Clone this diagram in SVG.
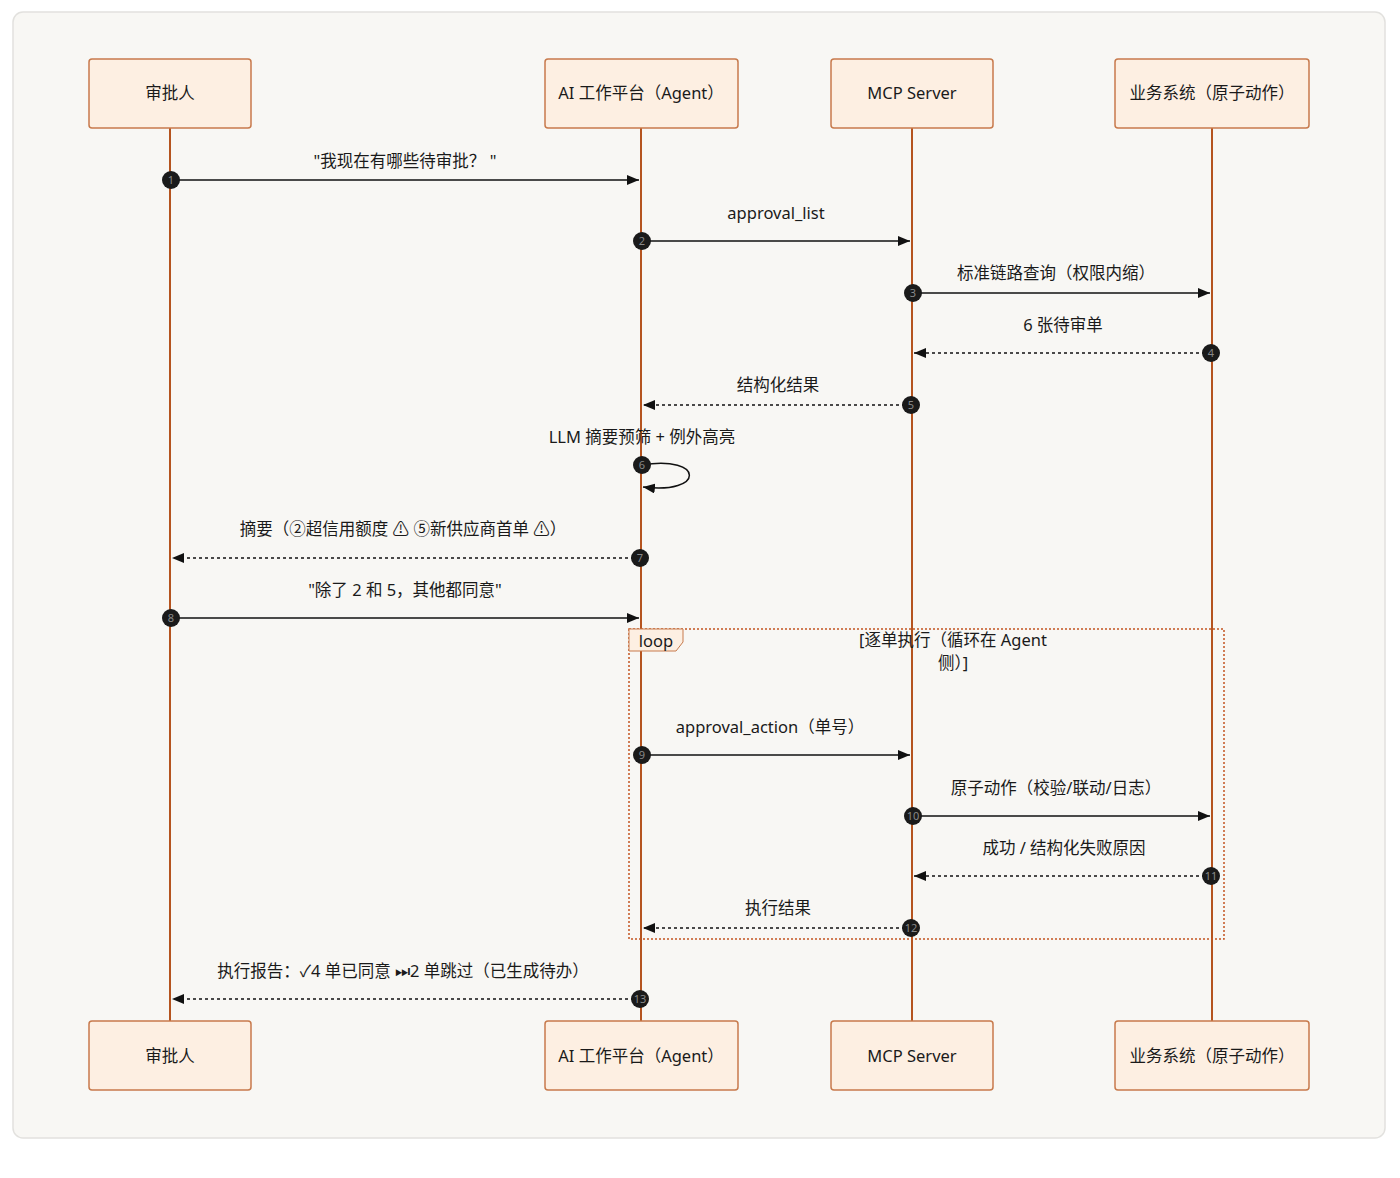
<svg xmlns="http://www.w3.org/2000/svg" width="1400" height="1178" viewBox="0 0 1400 1178">
<defs>
<style>
.t{font-family:"Noto Sans","Noto Sans CJK SC","DejaVu Sans",sans-serif;font-size:16.5px;fill:#1a1a1a;text-anchor:middle}
.actor{fill:#fdefe2;stroke:#c77a4c;stroke-width:1.5}
.life{stroke:#b5541f;stroke-width:2}
.msg{stroke:#111;stroke-width:1.5;fill:none}
.dash{stroke-dasharray:3,3}
.num{fill:#1a1a1a}
.nt{font-family:"Noto Sans","DejaVu Sans",sans-serif;font-size:11px;fill:#888;text-anchor:middle}
</style>
<marker id="ah" viewBox="0 0 12 10" refX="12" refY="5" markerWidth="12" markerHeight="10" markerUnits="userSpaceOnUse" orient="auto">
<path d="M0,0 L12,5 L0,10 z" fill="#111"/>
</marker>
</defs>
<rect x="0" y="0" width="1400" height="1178" fill="#ffffff"/>
<rect x="13" y="12" width="1372" height="1126" rx="10" fill="#f8f7f4" stroke="#e2e1de" stroke-width="1.5"/>

<g id="lifelines">
<line class="life" x1="170" y1="128" x2="170" y2="1021"/>
<line class="life" x1="641" y1="128" x2="641" y2="1021"/>
<line class="life" x1="912" y1="128" x2="912" y2="1021"/>
<line class="life" x1="1212" y1="128" x2="1212" y2="1021"/>
</g>

<g id="loop">
<rect x="629" y="629" width="595" height="310" fill="none" stroke="#c2541f" stroke-width="1.5" stroke-dasharray="2,2"/>
<polygon points="629,629 683,629 683,642 676,651 629,651" fill="#fdefe2" stroke="#c77a4c" stroke-width="1"/>
<text class="t" x="656" y="647">loop</text>
<text class="t" x="953" y="646">[逐单执行（循环在 Agent</text>
<text class="t" x="953" y="669">侧）]</text>
</g>

<g id="actor-approver-top"><rect class="actor" x="89" y="59" width="162" height="69" rx="3"/><text class="t" x="170" y="99">审批人</text></g>
<g id="actor-agent-top"><rect class="actor" x="545" y="59" width="193" height="69" rx="3"/><text class="t" x="641" y="99">AI 工作平台（Agent）</text></g>
<g id="actor-mcp-top"><rect class="actor" x="831" y="59" width="162" height="69" rx="3"/><text class="t" x="912" y="99">MCP Server</text></g>
<g id="actor-biz-top"><rect class="actor" x="1115" y="59" width="194" height="69" rx="3"/><text class="t" x="1212" y="99">业务系统（原子动作）</text></g>
<g id="actor-approver-bottom"><rect class="actor" x="89" y="1021" width="162" height="69" rx="3"/><text class="t" x="170" y="1062">审批人</text></g>
<g id="actor-agent-bottom"><rect class="actor" x="545" y="1021" width="193" height="69" rx="3"/><text class="t" x="641" y="1062">AI 工作平台（Agent）</text></g>
<g id="actor-mcp-bottom"><rect class="actor" x="831" y="1021" width="162" height="69" rx="3"/><text class="t" x="912" y="1062">MCP Server</text></g>
<g id="actor-biz-bottom"><rect class="actor" x="1115" y="1021" width="194" height="69" rx="3"/><text class="t" x="1212" y="1062">业务系统（原子动作）</text></g>

<g id="connectors">
<text class="t" x="405" y="167">"我现在有哪些待审批？ "</text>
<line class="msg" x1="171" y1="180" x2="639" y2="180" marker-end="url(#ah)"/>
<circle class="num" cx="171" cy="180" r="9"/><text class="nt" x="171" y="184">1</text>

<text class="t" x="776" y="219">approval_list</text>
<line class="msg" x1="642" y1="241" x2="910" y2="241" marker-end="url(#ah)"/>
<circle class="num" cx="642" cy="241" r="9"/><text class="nt" x="642" y="245">2</text>

<text class="t" x="1056" y="279">标准链路查询（权限内缩）</text>
<line class="msg" x1="913" y1="293" x2="1210" y2="293" marker-end="url(#ah)"/>
<circle class="num" cx="913" cy="293" r="9"/><text class="nt" x="913" y="297">3</text>

<text class="t" x="1063" y="331">6 张待审单</text>
<line class="msg dash" x1="1211" y1="353" x2="914" y2="353" marker-end="url(#ah)"/>
<circle class="num" cx="1211" cy="353" r="9"/><text class="nt" x="1211" y="357">4</text>

<text class="t" x="778" y="391">结构化结果</text>
<line class="msg dash" x1="911" y1="405" x2="643" y2="405" marker-end="url(#ah)"/>
<circle class="num" cx="911" cy="405" r="9"/><text class="nt" x="911" y="409">5</text>

<text class="t" x="642" y="443">LLM 摘要预筛 + 例外高亮</text>
<path class="msg" d="M642,465 C705,455 705,495 643,487" marker-end="url(#ah)"/>
<circle class="num" cx="642" cy="465" r="9"/><text class="nt" x="642" y="469">6</text>

<text class="t" x="403" y="535">摘要（②超信用额度 ⚠ ⑤新供应商首单 ⚠）</text>
<line class="msg dash" x1="640" y1="558" x2="172" y2="558" marker-end="url(#ah)"/>
<circle class="num" cx="640" cy="558" r="9"/><text class="nt" x="640" y="562">7</text>

<text class="t" x="405" y="596">"除了 2 和 5，其他都同意"</text>
<line class="msg" x1="171" y1="618" x2="639" y2="618" marker-end="url(#ah)"/>
<circle class="num" cx="171" cy="618" r="9"/><text class="nt" x="171" y="622">8</text>

<text class="t" x="770" y="733">approval_action（单号）</text>
<line class="msg" x1="642" y1="755" x2="910" y2="755" marker-end="url(#ah)"/>
<circle class="num" cx="642" cy="755" r="9"/><text class="nt" x="642" y="759">9</text>

<text class="t" x="1056" y="794">原子动作（校验/联动/日志）</text>
<line class="msg" x1="913" y1="816" x2="1210" y2="816" marker-end="url(#ah)"/>
<circle class="num" cx="913" cy="816" r="9"/><text class="nt" x="913" y="820">10</text>

<text class="t" x="1064" y="854">成功 / 结构化失败原因</text>
<line class="msg dash" x1="1211" y1="876" x2="914" y2="876" marker-end="url(#ah)"/>
<circle class="num" cx="1211" cy="876" r="9"/><text class="nt" x="1211" y="880">11</text>

<text class="t" x="778" y="914">执行结果</text>
<line class="msg dash" x1="911" y1="928" x2="643" y2="928" marker-end="url(#ah)"/>
<circle class="num" cx="911" cy="928" r="9"/><text class="nt" x="911" y="932">12</text>

<text class="t" x="403" y="977">执行报告：✓4 单已同意 ⏭2 单跳过（已生成待办）</text>
<line class="msg dash" x1="640" y1="999" x2="172" y2="999" marker-end="url(#ah)"/>
<circle class="num" cx="640" cy="999" r="9"/><text class="nt" x="640" y="1003">13</text>
</g>
</svg>
